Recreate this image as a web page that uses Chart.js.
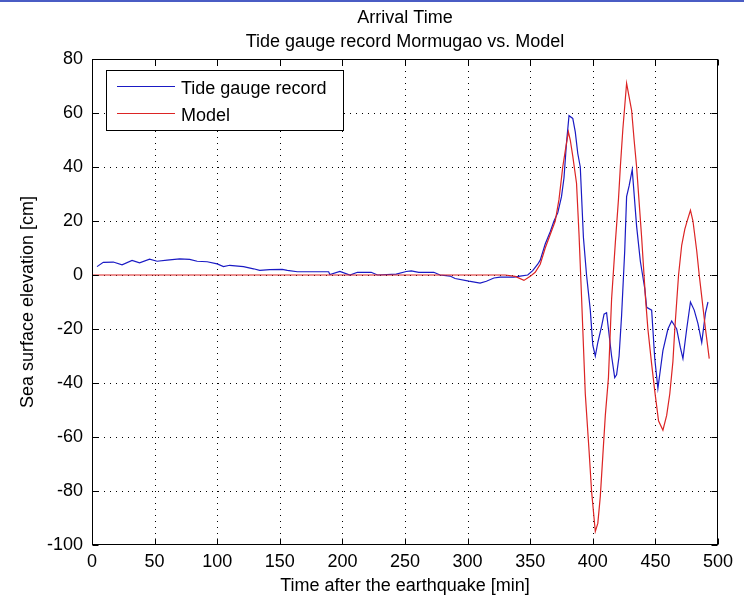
<!DOCTYPE html>
<html><head><meta charset="utf-8">
<script src="https://cdn.jsdelivr.net/npm/chart.js@4.4.0/dist/chart.umd.min.js"></script>
<style>html,body{margin:0;padding:0;background:#fff;overflow:hidden}#wrap{position:absolute;left:0;top:0;width:744px;height:599px}</style>
</head><body><div id="wrap"><canvas id="c" width="744" height="599"></canvas></div>
<script>
const titleLines = ["Arrival Time", "Tide gauge record Mormugao vs. Model"];
const xLabel = "Time after the earthquake [min]";
const yLabel = "Sea surface elevation [cm]";
const seriesNames = ["Tide gauge record", "Model"];
const xRange = [0, 500, 50];
const yRange = [-100, 80, 20];

const tideTime = [4,9,17,24,32,38,46,52,60,70,78,84,92,100,105,110,121,129,134,142,152,156,164,189,190,198,206,212,223,228,243,251,255,261,273,278,286,290,301,310,315,321,326,337,342,348,352,356,358,362,366,369,372,375,377,379,381,384,386,388,390,392.5,395,398,400,402,404,407,409,411,412.5,415,417.5,419,421,423,425.5,427,429,431.5,433,435,438,441.5,443,447,449.5,452,454,456,460,463,467,470,472,475,478,481,484,487,490,492];
const tideElev = [3.1,4.7,4.8,3.8,5.4,4.5,5.9,5.1,5.5,6,5.8,5.1,4.9,4.1,3.1,3.6,3.1,2.3,1.7,2,2.1,1.7,1.2,1.2,0.2,1.3,0,1,1,0,0.3,1.3,1.5,1,1,0,-0.4,-1.3,-2.3,-3,-2.3,-1.1,-0.8,-0.8,-0.4,0,1.6,4,5.5,11.5,16,20,23,29,36,49,59,58,53,45,40,14,0,-13,-26,-30,-25,-19,-14.5,-14,-20,-30,-38,-37,-30,-15,9,29,33,39,30,18,5,-5,-12,-13,-31,-42,-35,-28,-20,-17,-20,-27,-31,-20,-10,-13,-18,-25,-14,-10];

const modelTime = [0,330,338,345,350,354,358,362,366,370,373,376,378,380.5,382,384,387,389,391,394,397,399,402,404,406,408,410,412.5,415,418,420.5,422,424,427,429,431,433,435,437,439,442,444,447,449.5,452.5,456,459,461.5,464,465.5,468.5,471,473.5,476,478,480,483,485,487,490,493];
const modelElev = [0,0,-0.5,-2,-0.5,1,4,10,15,20,28,40,46,53,50,44,34,15,-8,-44,-65,-80,-95,-92,-82,-67,-52,-38,-9,12,28,40,54,71,66,61,50,40,27,14,-8,-20,-33,-43,-54,-57.5,-52,-44,-32,-20,0,11,17,21,24,20,9,0,-8,-20,-31];

const colors = ["#1a1ac4", "#dc2424"];
const FONT = "'Liberation Sans', Arial, sans-serif";
const FS = 18;

const toXY = (xs, ys) => xs.map((v, i) => ({x: v, y: ys[i]}));

const matlabFrame = {
  id: 'matlabFrame',
  beforeDatasetsDraw(chart) {
    const {ctx, chartArea: a, scales: {x, y}} = chart;
    ctx.save();
    ctx.strokeStyle = '#000'; ctx.lineWidth = 1; ctx.setLineDash([1, 5]);
    x.ticks.forEach(t => {
      const px = Math.round(x.getPixelForValue(t.value)) + 0.5;
      if (px <= a.left + 2 || px >= a.right - 2) return;
      ctx.beginPath(); ctx.moveTo(px, a.top); ctx.lineTo(px, a.bottom); ctx.stroke();
    });
    y.ticks.forEach(t => {
      const py = Math.round(y.getPixelForValue(t.value)) + 0.5;
      if (py <= a.top + 2 || py >= a.bottom - 2) return;
      ctx.beginPath(); ctx.moveTo(a.left, py); ctx.lineTo(a.right, py); ctx.stroke();
    });
    ctx.restore();
  },
  afterDatasetsDraw(chart) {
    const {ctx, chartArea: a, scales: {x, y}} = chart;
    ctx.save();
    ctx.strokeStyle = '#000'; ctx.lineWidth = 1; ctx.setLineDash([]);
    const L = Math.round(a.left) + 0.5, R = Math.round(a.right) - 0.5, T = Math.round(a.top) + 0.5, B = Math.round(a.bottom) - 0.5;
    ctx.strokeRect(L, T, R - L, B - T);
    const tl = 6;
    ctx.beginPath();
    x.ticks.forEach(t => {
      const px = Math.round(x.getPixelForValue(t.value)) + 0.5;
      ctx.moveTo(px, B); ctx.lineTo(px, B - tl);
      ctx.moveTo(px, T); ctx.lineTo(px, T + tl);
    });
    y.ticks.forEach(t => {
      const py = Math.round(y.getPixelForValue(t.value)) + 0.5;
      ctx.moveTo(L, py); ctx.lineTo(L + tl, py);
      ctx.moveTo(R, py); ctx.lineTo(R - tl, py);
    });
    ctx.stroke();
    // legend
    const lx = 106, ly = 70, lw = 237, lh = 60;
    ctx.fillStyle = '#fff';
    ctx.fillRect(lx, ly, lw, lh);
    ctx.strokeRect(lx + 0.5, ly + 0.5, lw, lh);
    ctx.font = FS + "px " + FONT;
    ctx.textBaseline = 'alphabetic'; ctx.textAlign = 'left';
    chart.data.datasets.forEach((ds, i) => {
      const yy = ly + 16.5 + i * 27;
      ctx.strokeStyle = ds.borderColor; ctx.lineWidth = 1;
      ctx.beginPath(); ctx.moveTo(lx + 11, yy); ctx.lineTo(lx + 69, yy); ctx.stroke();
      ctx.fillStyle = '#000';
      ctx.fillText(ds.label, lx + 75, yy + 7.5);
    });
    ctx.restore();
  },
  afterDraw(chart) {
    const {ctx, chartArea: a} = chart;
    ctx.save();
    ctx.fillStyle = '#000';
    ctx.font = FS + "px " + FONT;
    ctx.textAlign = 'center'; ctx.textBaseline = 'alphabetic';
    const cx = (a.left + a.right) / 2;
    titleLines.forEach((s, i) => ctx.fillText(s, cx, 23 + i * 24));
    ctx.fillStyle = '#4a5cc4';
    ctx.fillRect(0, 0, chart.width, 2);
    ctx.restore();
  }
};

new Chart(document.getElementById('c'), {
  type: 'line',
  data: {
    datasets: [
      {label: seriesNames[0], data: toXY(tideTime, tideElev), borderColor: colors[0], borderWidth: 1.2, pointRadius: 0, tension: 0, order: 2},
      {label: seriesNames[1], data: toXY(modelTime, modelElev), borderColor: colors[1], borderWidth: 1.2, pointRadius: 0, tension: 0, order: 1}
    ]
  },
  options: {
    responsive: false, animation: false, devicePixelRatio: 1,
    layout: {padding: {left: 0, right: 26, top: 59, bottom: 0}},
    plugins: {legend: {display: false}, title: {display: false}, tooltip: {enabled: false}},
    scales: {
      x: {
        type: 'linear', min: xRange[0], max: xRange[1],
        grid: {display: false, drawTicks: false}, border: {display: false},
        ticks: {stepSize: xRange[2], color: '#000', font: {family: FONT, size: FS}, padding: 6, maxRotation: 0},
        title: {display: true, text: xLabel, color: '#000', font: {family: FONT, size: FS}, padding: {top: 0, bottom: 2}},
        afterFit: s => { s.height = 54; }
      },
      y: {
        type: 'linear', min: yRange[0], max: yRange[1],
        grid: {display: false, drawTicks: false}, border: {display: false},
        ticks: {stepSize: yRange[2], color: '#000', font: {family: FONT, size: FS}, padding: 9},
        title: {display: true, text: yLabel, color: '#000', font: {family: FONT, size: FS}, padding: {top: 17, bottom: 0}},
        afterFit: s => { s.width = 92; }
      }
    }
  },
  plugins: [matlabFrame]
});
</script>
</body></html>
